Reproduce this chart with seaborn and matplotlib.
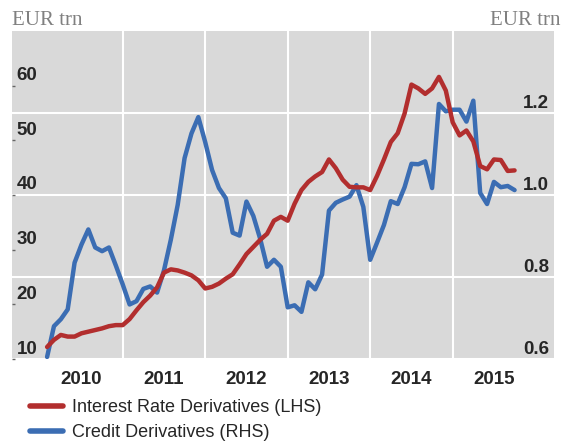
import numpy as np
import pandas as pd
import seaborn as sns
import matplotlib.pyplot as plt
from matplotlib.transforms import ScaledTranslation

# monthly data, Feb 2010 - Oct 2015
months = pd.date_range('2010-02-01', periods=69, freq='MS')
irs = [12.2, 13.5, 14.4, 14.1, 14.1, 14.7, 15.0, 15.3, 15.6, 16.0, 16.2, 16.2, 17.3, 18.9,
       20.4, 21.6, 23.1, 25.8, 26.4, 26.2, 25.8, 25.3, 24.4, 22.9, 23.2, 23.8, 24.7, 25.5,
       27.3, 29.2, 30.5, 31.8, 32.9, 35.3, 36.0, 35.3, 38.4, 40.9, 42.4, 43.4, 44.2,
       46.5, 44.9, 42.8, 41.5, 41.4, 41.4, 40.9, 43.5, 46.5, 49.7, 51.3, 54.9, 60.2, 59.5,
       58.5, 59.5, 61.6, 59.1, 53.3, 50.9, 51.8, 49.8, 45.3, 44.7, 46.5, 46.4, 44.4, 44.5]
credit = [0.605, 0.680, 0.697, 0.721, 0.835, 0.879, 0.916, 0.872, 0.863, 0.872, 0.828, 0.782, 0.733, 0.741,
          0.771, 0.777, 0.762, 0.816, 0.891, 0.976, 1.090, 1.150, 1.190, 1.129, 1.061, 1.017, 0.992, 0.908,
          0.901, 0.984, 0.949, 0.893, 0.825, 0.842, 0.825, 0.726, 0.731, 0.715, 0.787, 0.770, 0.806,
          0.962, 0.981, 0.989, 0.996, 1.024, 0.971, 0.842, 0.884, 0.927, 0.985, 0.978, 1.019, 1.076, 1.075,
          1.082, 1.017, 1.222, 1.204, 1.208, 1.208, 1.179, 1.230, 1.005, 0.978, 1.032, 1.019, 1.022, 1.012]
years = [2010, 2011, 2012, 2013, 2014, 2015]
left_ticks = [10, 20, 30, 40, 50, 60]
right_ticks = [0.6, 0.8, 1.0, 1.2]

df = pd.DataFrame({'t': months.year + (months.month - 1) / 12, 'irs': irs, 'credit': credit})

red = '#b22e2e'
blue = '#3b6db3'
grey_bg = '#d9d9d9'

sns.set_style('white')
plt.rcParams['font.family'] = ['Liberation Sans', 'DejaVu Sans']

fig = plt.figure(figsize=(5.67, 4.41), dpi=100)
ax = fig.add_axes([12 / 567, 1 - 359 / 441, 542 / 567, 328 / 441])
ax2 = ax.twinx()

# ax2 (credit, RHS) sits behind and carries the grey background and grid
ax.set_zorder(ax2.get_zorder() + 1)
ax.patch.set_visible(False)
ax2.patch.set_visible(True)
ax2.patch.set_facecolor(grey_bg)

sns.lineplot(data=df, x='t', y='credit', ax=ax2, color=blue, linewidth=3.2,
             label='Credit Derivatives (RHS)', legend=False)
sns.lineplot(data=df, x='t', y='irs', ax=ax, color=red, linewidth=3.2,
             label='Interest Rate Derivatives (LHS)', legend=False)

ax.set_xlim(2009.658, 2016.228)
ax.set_ylim(10, 70)
ax2.set_ylim(0.6, 1.4)
for a in (ax, ax2):
    a.set_xlabel('')
    a.set_ylabel('')
    for s in a.spines.values():
        s.set_visible(False)

# x axis: boundaries as major ticks, year labels in the middle as minor ticks
ax.set_xticks(years[1:])
ax.set_xticks([y + 0.5 for y in years], minor=True)
ax.set_xticklabels([])
ax.set_xticklabels([str(y) for y in years], minor=True, fontweight='bold', fontsize=13.5)
ax.tick_params(axis='x', which='major', direction='in', length=9.5, width=1.4, color='black')
ax.tick_params(axis='x', which='minor', length=0, pad=8.5)

ax2.xaxis.set_visible(True)
ax2.tick_params(axis='x', which='both', length=0, labelbottom=False, labeltop=False)
ax2.grid(True, which='major', axis='both', color='white', linewidth=1.5)
ax.grid(False)

# left axis labels inside the plot, sitting above their ticks
ax.set_yticks(left_ticks)
ax.set_yticklabels([str(v) for v in left_ticks], fontweight='bold', fontsize=13.5)
ax.tick_params(axis='y', direction='in', length=2, width=1, color='#666666', pad=-3.3)
for lab in ax.get_yticklabels():
    lab.set_horizontalalignment('left')
    lab.set_transform(lab.get_transform() + ScaledTranslation(0, 0.12, fig.dpi_scale_trans))

ax2.set_yticks(right_ticks)
ax2.set_yticklabels(['%.1f' % v for v in right_ticks], fontweight='bold', fontsize=13.5)
ax2.tick_params(axis='y', direction='in', length=0, pad=-3.6)
for lab in ax2.get_yticklabels():
    lab.set_horizontalalignment('right')
    lab.set_transform(lab.get_transform() + ScaledTranslation(0, 0.11, fig.dpi_scale_trans))

fig.text(12 / 567, 1 - 25 / 441, 'EUR trn', family='Liberation Serif', fontsize=15,
         color='#808080', ha='left', va='baseline')
fig.text(560 / 567, 1 - 25 / 441, 'EUR trn', family='Liberation Serif', fontsize=15,
         color='#808080', ha='right', va='baseline')

h1, l1 = ax.get_legend_handles_labels()
h2, l2 = ax2.get_legend_handles_labels()
leg = fig.legend(h1 + h2, l1 + l2, loc='upper left', bbox_to_anchor=(30 / 567, 1 - 399 / 441),
                 frameon=False, borderpad=0, borderaxespad=0, handlelength=1.85,
                 handletextpad=0.5, labelspacing=0.45,
                 prop={'family': 'Liberation Sans', 'size': 13})
for line in leg.get_lines():
    line.set_linewidth(4)

fig.savefig('out.png', dpi=100)
